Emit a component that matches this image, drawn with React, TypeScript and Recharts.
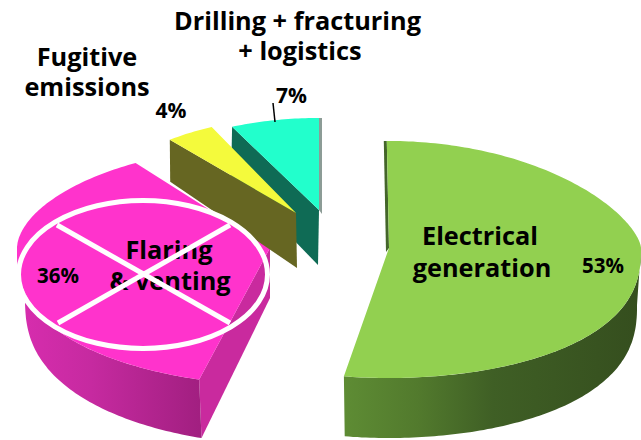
import { Pie, PieChart } from "recharts";

const sliceNames = ["Drilling + fracturing + logistics", "Electrical generation", "Flaring & venting", "Fugitive emissions"];
const sliceValues = [7, 53, 36, 4];
const topColors = ["#22FFCC", "#92D050", "#FF33CC", "#F4FA3C"];
const wallColors = ["#0F6B55", "#3F5F25", "#C92A9E", "#666622"];

const chartData = sliceNames.map((name, i) => ({ name, value: sliceValues[i], fill: topColors[i] }));

const FONT = "'Open Sans', 'Noto Sans', sans-serif";

type Ellipse = {
    cx: number;
    cy: number;
    rx: number;
    ryTop: number;
    ryBottom: number;
    powTop?: number;
    powBottom?: number;
    powSide?: number;
};
type SliceView = {
    top: Ellipse;
    base: Ellipse;
    skew: number;
    radialWall?: "start" | "end";
    frontStops?: [number, string][];
    sliver?: { at: "start" | "end"; dx: number; color: string };
};

// every wedge is pulled out of the pie and has its own projected ellipse
const sliceViews: Record<string, SliceView> = {
    "Electrical generation": {
        top: { cx: 389, cy: 248, rx: 252, ryTop: 107, ryBottom: 130, powTop: 1.3, powBottom: 0.8 },
        base: { cx: 389, cy: 305, rx: 248, ryTop: 107, ryBottom: 133, powBottom: 0.8 },
        skew: -0.5,
        frontStops: [
            [0, "#5E8C34"],
            [0.25, "#527A2D"],
            [0.5, "#3F5F25"],
            [1, "#354E1E"],
        ],
        sliver: { at: "start", dx: -3, color: "#44662A" },
    },
    "Flaring & venting": {
        top: { cx: 270, cy: 248, rx: 253, ryTop: 102, ryBottom: 137, powTop: 1.1, powBottom: 0.78, powSide: 1.1 },
        base: { cx: 270, cy: 298, rx: 245, ryTop: 102, ryBottom: 146, powBottom: 0.8, powSide: 1.1 },
        skew: 7.5,
        radialWall: "start",
        frontStops: [
            [0, "#D82DAF"],
            [0.4, "#C62AA0"],
            [1, "#A11F80"],
        ],
    },
    "Fugitive emissions": {
        top: { cx: 296, cy: 213, rx: 198, ryTop: 95, ryBottom: 95 },
        base: { cx: 297, cy: 268, rx: 199, ryTop: 112, ryBottom: 112 },
        skew: 0,
        radialWall: "start",
    },
    "Drilling + fracturing + logistics": {
        top: { cx: 319, cy: 210, rx: 204, ryTop: 92, ryBottom: 92 },
        base: { cx: 318, cy: 265, rx: 204, ryTop: 99, ryBottom: 99 },
        skew: 0,
        radialWall: "start",
        sliver: { at: "end", dx: 3, color: "#8C9C96" },
    },
};

const rimPoint = (e: Ellipse, theta: number): [number, number] => {
    const t = (theta * Math.PI) / 180;
    const s = Math.sin(t);
    const c = Math.cos(t);
    const y = c >= 0 ? -e.ryTop * Math.pow(c, e.powTop ?? 1) : e.ryBottom * Math.pow(-c, e.powBottom ?? 1);
    const x = c < 0 ? Math.sign(s) * Math.pow(Math.abs(s), e.powSide ?? 1) : s;
    return [e.cx + e.rx * x, e.cy + y];
};

const arcPoints = (e: Ellipse, from: number, to: number) => {
    const steps = Math.max(2, Math.ceil(Math.abs(to - from)));
    const pts: [number, number][] = [];
    for (let i = 0; i <= steps; i++) {
        pts.push(rimPoint(e, from + ((to - from) * i) / steps));
    }
    return pts;
};

const toPath = (pts: [number, number][]) =>
    "M" + pts.map(([x, y]) => `${x.toFixed(1)},${y.toFixed(1)}`).join("L") + "Z";

// Pie gives angles counter-clockwise from 3 o'clock, the rims use clockwise from 12
const WedgeShape = (props: any) => {
    const name = props.payload?.name ?? props.name;
    const view = sliceViews[name];
    const index = sliceNames.indexOf(name);
    const from = 90 - props.startAngle + view.skew;
    const to = 90 - props.endAngle + view.skew;
    const gradientId = `front-${index}`;

    const frontFrom = Math.max(from, 90);
    const frontTo = Math.min(to, 270);
    const hasFront = view.frontStops && frontTo > frontFrom;
    const wallAngle = view.radialWall === "start" ? from : to;
    const sliverAngle = view.sliver?.at === "start" ? from : to;

    return (
        <g>
            {hasFront && (
                <defs>
                    <linearGradient id={gradientId} x1="0" y1="0" x2="1" y2="0">
                        {view.frontStops!.map(([offset, color]) => (
                            <stop key={offset} offset={offset} stopColor={color} />
                        ))}
                    </linearGradient>
                </defs>
            )}
            {view.radialWall && (
                <path
                    d={toPath([
                        [view.top.cx, view.top.cy],
                        rimPoint(view.top, wallAngle),
                        rimPoint(view.base, wallAngle),
                        [view.base.cx, view.base.cy],
                    ])}
                    fill={wallColors[index]}
                />
            )}
            {hasFront && (
                <path
                    d={toPath([
                        ...arcPoints(view.top, frontFrom, frontTo),
                        ...arcPoints(view.base, frontTo, frontFrom),
                    ])}
                    fill={`url(#${gradientId})`}
                />
            )}
            {view.sliver && (
                <path
                    d={toPath([
                        rimPoint(view.top, sliverAngle),
                        [rimPoint(view.top, sliverAngle)[0] + view.sliver.dx, rimPoint(view.top, sliverAngle)[1]],
                        [view.top.cx + view.sliver.dx, view.top.cy + 4],
                        [view.top.cx, view.top.cy],
                    ])}
                    fill={view.sliver.color}
                />
            )}
            <path
                d={toPath([[view.top.cx, view.top.cy], ...arcPoints(view.top, from, to)])}
                fill={topColors[index]}
            />
        </g>
    );
};

const ChartText = ({ x, y, size, children }: { x: number; y: number; size: number; children: string }) => (
    <text x={x} y={y} textAnchor="middle" fontFamily={FONT} fontWeight={700} fontSize={size} fill="#000">
        {children}
    </text>
);

export default function App() {
    return (
        <div style={{ position: "fixed", left: 0, top: 0, width: 641, height: 440, background: "#fff" }}>
            <PieChart width={641} height={440} margin={{ top: 0, right: 0, bottom: 0, left: 0 }}>
                <Pie
                    data={chartData}
                    dataKey="value"
                    nameKey="name"
                    cx={320}
                    cy={220}
                    outerRadius={200}
                    startAngle={115.2}
                    endAngle={-244.8}
                    stroke="none"
                    shape={WedgeShape}
                    activeShape={WedgeShape}
                    inactiveShape={WedgeShape}
                    isAnimationActive={false}
                />
            </PieChart>
            {/* labels sit in their own layer so they stay above the wedges */}
            <svg width={641} height={440} style={{ position: "absolute", left: 0, top: 0, pointerEvents: "none" }}>
                <ChartText x={297.5} y={30} size={25.3}>Drilling + fracturing</ChartText>
                <ChartText x={300} y={60} size={25.3}>+ logistics</ChartText>
                <ChartText x={87} y={66} size={25.3}>Fugitive</ChartText>
                <ChartText x={87} y={96} size={25.3}>emissions</ChartText>
                <ChartText x={171} y={118} size={21}>{`${sliceValues[3]}%`}</ChartText>
                <ChartText x={291.5} y={103} size={21}>{`${sliceValues[0]}%`}</ChartText>
                <line x1={273} y1={103} x2={275} y2={122} stroke="#000" strokeWidth={1.5} />
                <ChartText x={169} y={259} size={25.3}>Flaring</ChartText>
                <ChartText x={170} y={290} size={25.3}>& venting</ChartText>
                <ChartText x={58} y={283} size={20.5}>{`${sliceValues[2]}%`}</ChartText>
                <ChartText x={480} y={245} size={25.3}>Electrical</ChartText>
                <ChartText x={482} y={277} size={25.3}>generation</ChartText>
                <ChartText x={603} y={273} size={20.5}>{`${sliceValues[1]}%`}</ChartText>
                {/* crossed-out oval over the flaring wedge */}
                <ellipse cx={143} cy={274.5} rx={124.5} ry={74} fill="none" stroke="#fff" strokeWidth={5} />
                <line x1={57} y1={225} x2={230} y2={323} stroke="#fff" strokeWidth={5} />
                <line x1={230} y1={225} x2={58} y2={323} stroke="#fff" strokeWidth={5} />
            </svg>
        </div>
    );
}
